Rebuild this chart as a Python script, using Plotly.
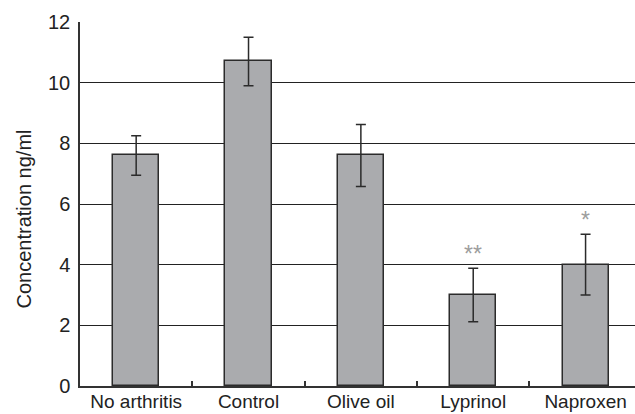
import plotly.graph_objects as go

categories = ["No arthritis", "Control", "Olive oil", "Lyprinol", "Naproxen"]
values = [7.6, 10.7, 7.6, 3.0, 4.0]
errors = [0.65, 0.8, 1.02, 0.88, 1.0]
sig_labels = ["", "", "", "**", "*"]
y_ticks = [0, 2, 4, 6, 8, 10, 12]
y_title = "Concentration ng/ml"

fig = go.Figure()
fig.add_trace(go.Bar(
    x=categories, y=values,
    width=0.41,
    marker=dict(color="#aaabae", line=dict(color="#2b2b2b", width=1.5)),
    error_y=dict(type="data", array=errors, visible=True,
                 color="#2b2b2b", thickness=1.5, width=5),
))

for c, s, v, e in zip(categories, sig_labels, values, errors):
    if s:
        fig.add_annotation(x=c, y=v + e, text=s, showarrow=False,
                           font=dict(family="Liberation Sans, Arial", size=23, color="#9d9d9d"),
                           xanchor="center", yanchor="middle", yshift=14)

fig.add_annotation(xref="paper", yref="paper", x=-0.101, y=0.46,
                   text=y_title, textangle=-90, showarrow=False,
                   xanchor="center", yanchor="middle",
                   font=dict(family="Liberation Sans, Arial", size=20, color="#222222"))

fig.update_layout(
    width=635, height=414,
    margin=dict(l=80, r=0, t=22, b=28),
    paper_bgcolor="white", plot_bgcolor="white",
    showlegend=False,
    font=dict(family="Liberation Sans, Arial", color="#222222"),
    bargap=0,
)
fig.update_xaxes(
    range=[-0.5, 4.44], automargin=False,
    showline=True, linecolor="#333333", linewidth=1.5,
    ticks="inside", tickson="boundaries", ticklen=5, tickcolor="#333333", tickwidth=1.5,
    tickfont=dict(size=19, color="#222222"),
    ticklabelstandoff=-3,
    showgrid=False,
)
fig.update_yaxes(
    range=[0, 12], tickvals=y_ticks, automargin=False,
    showline=True, linecolor="#333333", linewidth=1.5,
    showgrid=True, gridcolor="#222222", gridwidth=1.2,
    ticks="", tickfont=dict(size=20, color="#222222"),
    ticklabelstandoff=4,
    zeroline=False,
)

fig.write_html("out.html", config={"displayModeBar": False},
               post_script="document.body.style.margin='0';document.body.style.overflow='hidden';")
